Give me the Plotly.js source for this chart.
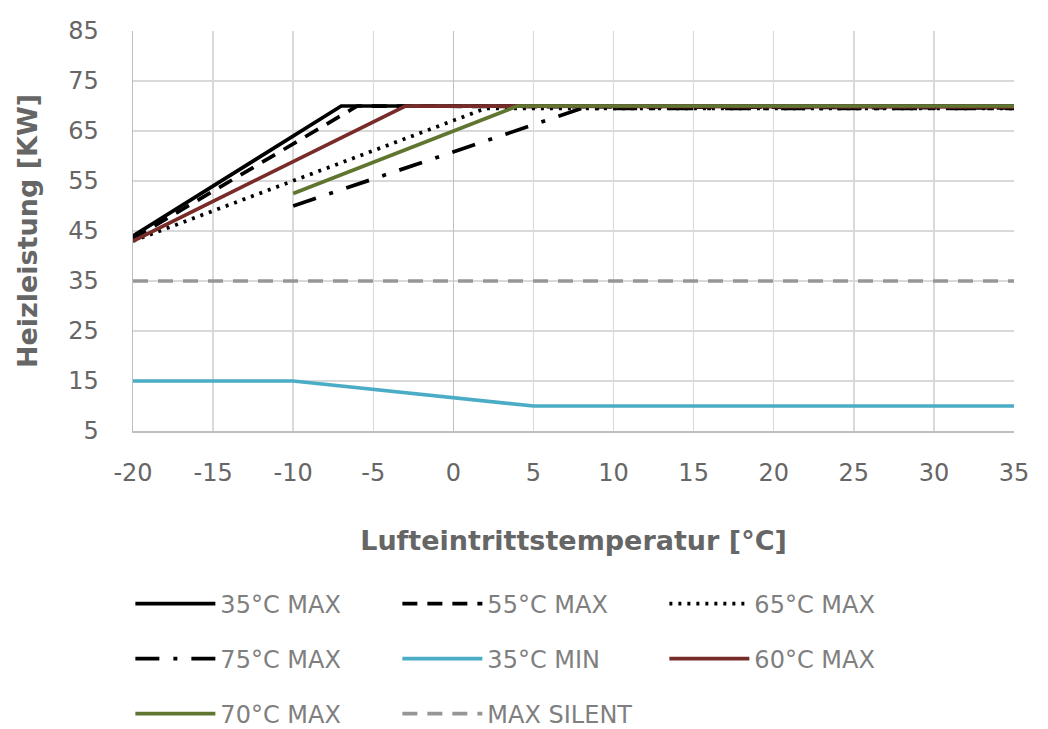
<!DOCTYPE html>
<html><head><meta charset="utf-8">
<script src="https://cdn.plot.ly/plotly-3.0.1.min.js"></script>
<style>body{margin:0;padding:0;background:#fff}#chart{width:1048px;height:729px}</style>
</head><body><div id="chart"></div>
<script>
const seriesNames = ["35°C MAX","55°C MAX","65°C MAX","75°C MAX","35°C MIN","60°C MAX","70°C MAX","MAX SILENT"];
const x35max = [-20,-7,35];      const y35max = [44,70,70];
const x55max = [-20,-6,35];      const y55max = [43.5,70,69.6];
const x65max = [-20,2,35];       const y65max = [43,69.5,69.5];
const x75max = [-10,8,35];       const y75max = [50,69.5,69.5];
const x35min = [-20,-10,5,35];   const y35min = [15,15,10,10];
const x60max = [-20,-3,35];      const y60max = [43,70,69.8];
const x70max = [-10,4,35];       const y70max = [52.5,70,70];
const xSilent = [-20,35];        const ySilent = [35,35];
const xTicks = [-20,-15,-10,-5,0,5,10,15,20,25,30,35];
const yTicks = [5,15,25,35,45,55,65,75,85];

const font = "'DejaVu Sans', sans-serif";
function tr(name,x,y,color,dash,legend){
  return {type:'scatter',mode:'lines',name:name,x:x,y:y,legend:legend,
    line:{color:color,width:3.7,dash:dash}};
}
const traces = [
  tr(seriesNames[0],x35max,y35max,'#000000','solid','legend'),
  tr(seriesNames[1],x55max,y55max,'#000000','15px,10px','legend'),
  tr(seriesNames[2],x65max,y65max,'#000000','3px,6px','legend'),
  tr(seriesNames[3],x75max,y75max,'#000000','24px,14px,4px,14px','legend2'),
  tr(seriesNames[4],x35min,y35min,'#4bacc6','solid','legend2'),
  tr(seriesNames[5],x60max,y60max,'#772c2a','solid','legend2'),
  tr(seriesNames[6],x70max,y70max,'#5f7530','solid','legend3'),
  tr(seriesNames[7],xSilent,ySilent,'#969696','15px,10px','legend3'),
];
const legBase = {orientation:'h',xref:'paper',yref:'paper',x:-0.003,xanchor:'left',yanchor:'middle',
  font:{family:font,size:24,color:'#7f7f7f'},itemwidth:80,entrywidth:172,entrywidthmode:'pixels',
  bgcolor:'rgba(0,0,0,0)',traceorder:'normal'};
const layout = {
  width:1048,height:729,
  margin:{l:133,r:34,t:31,b:298,autoexpand:false},
  paper_bgcolor:'#fff',plot_bgcolor:'#fff',
  font:{family:font,color:'#595959'},
  showlegend:true,
  xaxis:{range:[-20,35],tickvals:xTicks,ticktext:xTicks.map(String),automargin:false,
    showgrid:true,gridcolor:'#d9d9d9',gridwidth:1.5,
    zeroline:true,zerolinecolor:'#bfbfbf',zerolinewidth:1.5,
    showline:true,linecolor:'#bfbfbf',linewidth:1.5,ticks:'',
    tickfont:{family:font,size:24,color:'#666666'},ticklabelstandoff:20,
    title:{text:'Lufteintrittstemperatur [°C]',font:{family:font,size:27,color:'#666666',weight:'bold'},standoff:45}},
  yaxis:{range:[5,85],tickvals:yTicks,ticktext:yTicks.map(String),automargin:false,
    showgrid:true,gridcolor:'#d9d9d9',gridwidth:1.5,zeroline:false,
    showline:true,linecolor:'#bfbfbf',linewidth:1.5,ticks:'',
    tickfont:{family:font,size:24,color:'#666666'},ticklabelstandoff:28,
    title:{text:'Heizleistung [KW]',font:{family:font,size:27,color:'#666666',weight:'bold'},standoff:22}},
  legend:Object.assign({},legBase,{y:-0.4325}),
  legend2:Object.assign({},legBase,{y:-0.57}),
  legend3:Object.assign({},legBase,{y:-0.7075}),
};
Plotly.newPlot('chart',traces,layout,{displayModeBar:false,staticPlot:true});
</script></body></html>
